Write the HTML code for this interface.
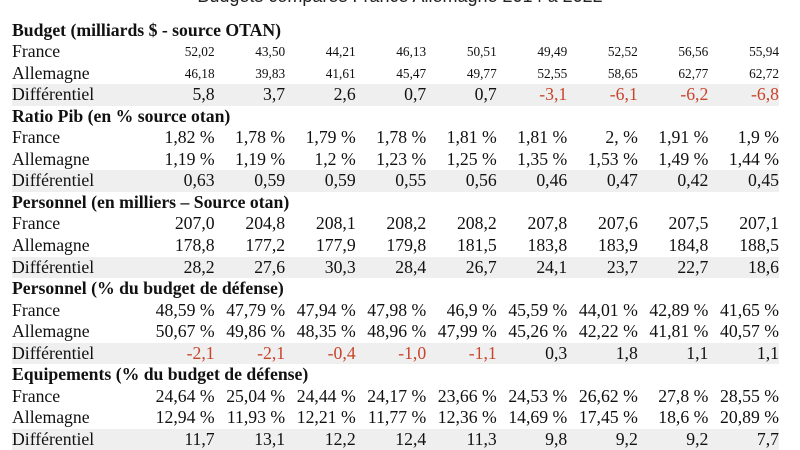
<!DOCTYPE html>
<html><head><meta charset="utf-8"><style>
body{margin:0;width:800px;height:445px;overflow:hidden;background:#fff;position:relative;font-family:"Liberation Serif",serif;color:#111}
.t{position:absolute;top:-14px;left:0;width:800px;text-align:center;font-family:"Liberation Sans",sans-serif;font-size:18px;color:#222}
table{position:absolute;left:12px;top:19.5px;border-collapse:collapse;table-layout:fixed;width:767px}
td{height:21.55px;padding:0;font-size:17.7px;line-height:21.55px;text-align:right;white-space:nowrap}
td:first-child{text-align:left}
tr.h td{font-weight:bold}
tr.d td{background:#efefef}
.s td{font-size:13.3px}
.s td:first-child{font-size:17.7px}
.r{color:#c8442c}
</style></head><body>
<div class="t">Budgets comparés France Allemagne 2014 à 2022</div>
<table>
<colgroup><col style="width:132px"><col span="9" style="width:70.5px"></colgroup>
<tr class="h"><td colspan="10">Budget (milliards $ - source OTAN)</td></tr>
<tr class="s"><td>France</td><td>52,02</td><td>43,50</td><td>44,21</td><td>46,13</td><td>50,51</td><td>49,49</td><td>52,52</td><td>56,56</td><td>55,94</td></tr>
<tr class="s"><td>Allemagne</td><td>46,18</td><td>39,83</td><td>41,61</td><td>45,47</td><td>49,77</td><td>52,55</td><td>58,65</td><td>62,77</td><td>62,72</td></tr>
<tr class="d"><td>Différentiel</td><td>5,8</td><td>3,7</td><td>2,6</td><td>0,7</td><td>0,7</td><td class="r">-3,1</td><td class="r">-6,1</td><td class="r">-6,2</td><td class="r">-6,8</td></tr>
<tr class="h"><td colspan="10">Ratio Pib (en % source otan)</td></tr>
<tr><td>France</td><td>1,82 %</td><td>1,78 %</td><td>1,79 %</td><td>1,78 %</td><td>1,81 %</td><td>1,81 %</td><td>2, %</td><td>1,91 %</td><td>1,9 %</td></tr>
<tr><td>Allemagne</td><td>1,19 %</td><td>1,19 %</td><td>1,2 %</td><td>1,23 %</td><td>1,25 %</td><td>1,35 %</td><td>1,53 %</td><td>1,49 %</td><td>1,44 %</td></tr>
<tr class="d"><td>Différentiel</td><td>0,63</td><td>0,59</td><td>0,59</td><td>0,55</td><td>0,56</td><td>0,46</td><td>0,47</td><td>0,42</td><td>0,45</td></tr>
<tr class="h"><td colspan="10">Personnel (en milliers – Source otan)</td></tr>
<tr><td>France</td><td>207,0</td><td>204,8</td><td>208,1</td><td>208,2</td><td>208,2</td><td>207,8</td><td>207,6</td><td>207,5</td><td>207,1</td></tr>
<tr><td>Allemagne</td><td>178,8</td><td>177,2</td><td>177,9</td><td>179,8</td><td>181,5</td><td>183,8</td><td>183,9</td><td>184,8</td><td>188,5</td></tr>
<tr class="d"><td>Différentiel</td><td>28,2</td><td>27,6</td><td>30,3</td><td>28,4</td><td>26,7</td><td>24,1</td><td>23,7</td><td>22,7</td><td>18,6</td></tr>
<tr class="h"><td colspan="10">Personnel (% du budget de défense)</td></tr>
<tr><td>France</td><td>48,59 %</td><td>47,79 %</td><td>47,94 %</td><td>47,98 %</td><td>46,9 %</td><td>45,59 %</td><td>44,01 %</td><td>42,89 %</td><td>41,65 %</td></tr>
<tr><td>Allemagne</td><td>50,67 %</td><td>49,86 %</td><td>48,35 %</td><td>48,96 %</td><td>47,99 %</td><td>45,26 %</td><td>42,22 %</td><td>41,81 %</td><td>40,57 %</td></tr>
<tr class="d"><td>Différentiel</td><td class="r">-2,1</td><td class="r">-2,1</td><td class="r">-0,4</td><td class="r">-1,0</td><td class="r">-1,1</td><td>0,3</td><td>1,8</td><td>1,1</td><td>1,1</td></tr>
<tr class="h"><td colspan="10">Equipements (% du budget de défense)</td></tr>
<tr><td>France</td><td>24,64 %</td><td>25,04 %</td><td>24,44 %</td><td>24,17 %</td><td>23,66 %</td><td>24,53 %</td><td>26,62 %</td><td>27,8 %</td><td>28,55 %</td></tr>
<tr><td>Allemagne</td><td>12,94 %</td><td>11,93 %</td><td>12,21 %</td><td>11,77 %</td><td>12,36 %</td><td>14,69 %</td><td>17,45 %</td><td>18,6 %</td><td>20,89 %</td></tr>
<tr class="d"><td>Différentiel</td><td>11,7</td><td>13,1</td><td>12,2</td><td>12,4</td><td>11,3</td><td>9,8</td><td>9,2</td><td>9,2</td><td>7,7</td></tr>
</table>
</body></html>
